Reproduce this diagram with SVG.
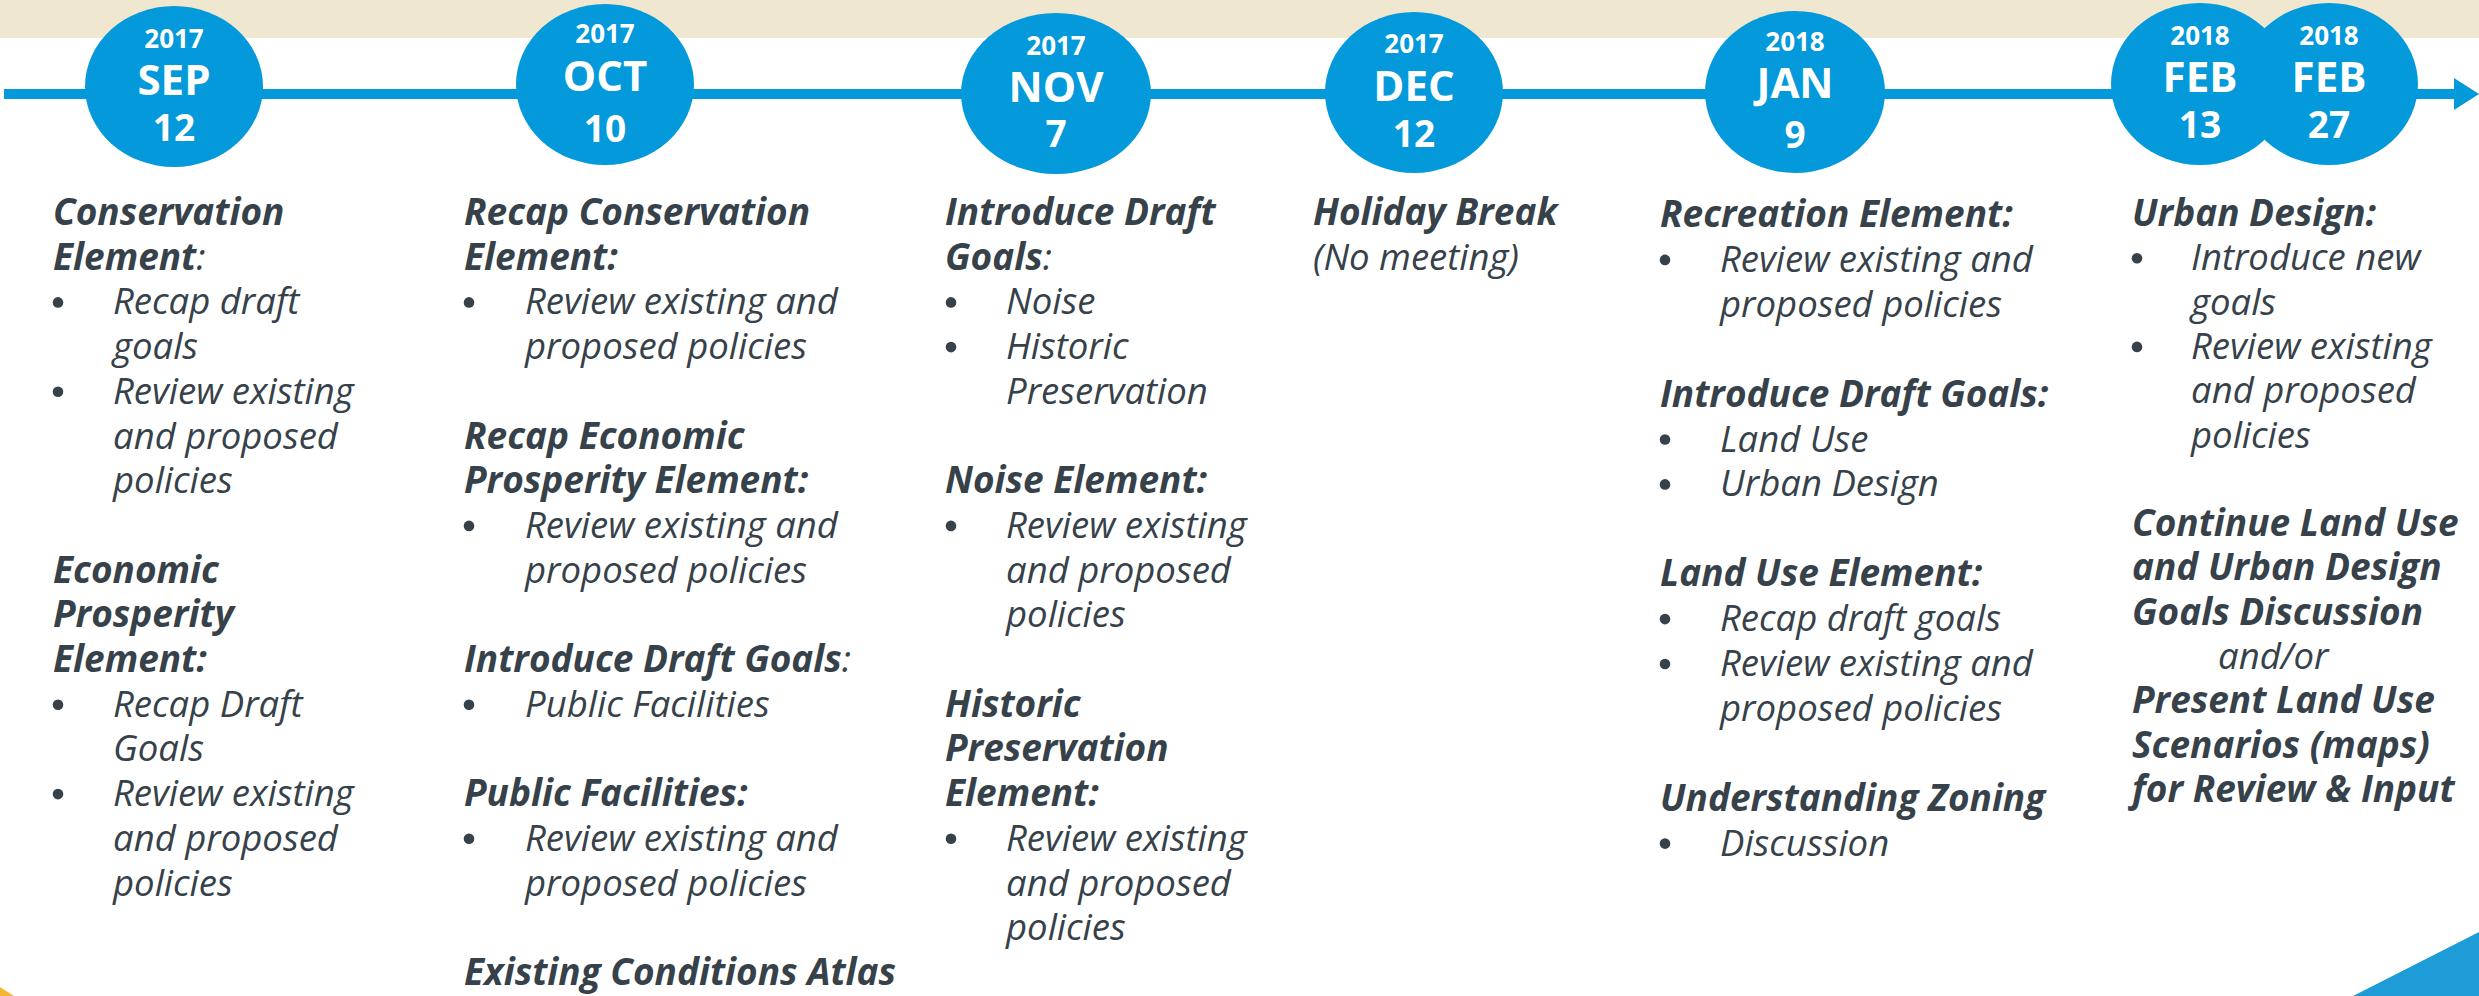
<svg xmlns="http://www.w3.org/2000/svg" width="2479" height="996" viewBox="0 0 2479 996">
<style>
.h{font-family:"Open Sans",sans-serif;font-weight:700;font-style:italic;font-size:37px;fill:#36414a}
.b{font-family:"Open Sans",sans-serif;font-weight:400;font-style:italic;font-size:36.5px;fill:#36414a}
.n{font-weight:400}
.dot{fill:#36414a}
.ell{fill:#0399da}
.yr,.mo,.dy{font-family:"Open Sans",sans-serif;font-weight:700;fill:#ffffff;text-anchor:middle}
.yr{font-size:26px}
.mo{font-size:42px}
.dy{font-size:37px}
</style>
<defs>
<marker id="arr" markerUnits="userSpaceOnUse" markerWidth="30" markerHeight="34" refX="0" refY="16" orient="auto">
<polygon points="0,0 25,16 0,32" fill="#0399da"/>
</marker>
</defs>
<rect x="0" y="0" width="2479" height="38" fill="#f0e7d1"/>
<polygon points="0,987 14,996 0,996" fill="#f5b731"/>
<polygon points="2353,996 2479,932 2479,996" fill="#1e9cd7"/>
<g id="connectors">
<line x1="4" y1="94" x2="2454" y2="94" stroke="#0399da" stroke-width="10" marker-end="url(#arr)"/>
</g>
<g id="date-sep"><ellipse class="ell" cx="174" cy="86.5" rx="89" ry="80.5"/><text class="yr" x="174" y="48">2017</text><text class="mo" x="174" y="95">SEP</text><text class="dy" x="174" y="141">12</text></g>
<g id="date-oct"><ellipse class="ell" cx="605" cy="84.5" rx="89" ry="80.5"/><text class="yr" x="605" y="43">2017</text><text class="mo" x="605" y="91">OCT</text><text class="dy" x="605" y="142">10</text></g>
<g id="date-nov"><ellipse class="ell" cx="1056" cy="93.5" rx="95" ry="80.5"/><text class="yr" x="1056" y="55">2017</text><text class="mo" x="1056" y="102">NOV</text><text class="dy" x="1056" y="147">7</text></g>
<g id="date-dec"><ellipse class="ell" cx="1414" cy="92.5" rx="89" ry="80.5"/><text class="yr" x="1414" y="53">2017</text><text class="mo" x="1414" y="101">DEC</text><text class="dy" x="1414" y="147">12</text></g>
<g id="date-jan"><ellipse class="ell" cx="1795" cy="92" rx="90" ry="81"/><text class="yr" x="1795" y="51">2018</text><text class="mo" x="1795" y="98">JAN</text><text class="dy" x="1795" y="148">9</text></g>
<g id="date-feb13"><ellipse class="ell" cx="2200" cy="84" rx="89" ry="81"/><text class="yr" x="2200" y="45">2018</text><text class="mo" x="2200" y="92">FEB</text><text class="dy" x="2200" y="138">13</text></g>
<g id="date-feb27"><ellipse class="ell" cx="2329" cy="84" rx="89" ry="81"/><text class="yr" x="2329" y="45">2018</text><text class="mo" x="2329" y="92">FEB</text><text class="dy" x="2329" y="138">27</text></g>

<g id="col-sep">
<text class="h" x="53" y="225">Conservation</text>
<text class="h" x="53" y="269.7">Element<tspan class="n">:</tspan></text>
<circle class="dot" cx="58" cy="302.4" r="5.3"/><text class="b" x="113" y="314.4">Recap draft</text>
<text class="b" x="113" y="359.1">goals</text>
<circle class="dot" cx="58" cy="391.8" r="5.3"/><text class="b" x="113" y="403.8">Review existing</text>
<text class="b" x="113" y="448.5">and proposed</text>
<text class="b" x="113" y="493.2">policies</text>
<text class="h" x="53" y="582.6">Economic</text>
<text class="h" x="53" y="627.3">Prosperity</text>
<text class="h" x="53" y="672">Element:</text>
<circle class="dot" cx="58" cy="704.7" r="5.3"/><text class="b" x="113" y="716.7">Recap Draft</text>
<text class="b" x="113" y="761.4">Goals</text>
<circle class="dot" cx="58" cy="794.1" r="5.3"/><text class="b" x="113" y="806.1">Review existing</text>
<text class="b" x="113" y="850.8">and proposed</text>
<text class="b" x="113" y="895.5">policies</text>
</g>

<g id="col-oct">
<text class="h" x="464" y="225">Recap Conservation</text>
<text class="h" x="464" y="269.7">Element:</text>
<circle class="dot" cx="469" cy="302.4" r="5.3"/><text class="b" x="525" y="314.4">Review existing and</text>
<text class="b" x="525" y="359.1">proposed policies</text>
<text class="h" x="464" y="448.5">Recap Economic</text>
<text class="h" x="464" y="493.2">Prosperity Element:</text>
<circle class="dot" cx="469" cy="525.9" r="5.3"/><text class="b" x="525" y="537.9">Review existing and</text>
<text class="b" x="525" y="582.6">proposed policies</text>
<text class="h" x="464" y="672">Introduce Draft Goals<tspan class="n">:</tspan></text>
<circle class="dot" cx="469" cy="704.7" r="5.3"/><text class="b" x="525" y="716.7">Public Facilities</text>
<text class="h" x="464" y="806.1">Public Facilities:</text>
<circle class="dot" cx="469" cy="838.8" r="5.3"/><text class="b" x="525" y="850.8">Review existing and</text>
<text class="b" x="525" y="895.5">proposed policies</text>
<text class="h" x="464" y="984.9">Existing Conditions Atlas</text>
</g>

<g id="col-nov">
<text class="h" x="945" y="225">Introduce Draft</text>
<text class="h" x="945" y="269.7">Goals<tspan class="n">:</tspan></text>
<circle class="dot" cx="951" cy="302.4" r="5.3"/><text class="b" x="1006" y="314.4">Noise</text>
<circle class="dot" cx="951" cy="347.1" r="5.3"/><text class="b" x="1006" y="359.1">Historic</text>
<text class="b" x="1006" y="403.8">Preservation</text>
<text class="h" x="945" y="493.2">Noise Element:</text>
<circle class="dot" cx="951" cy="525.9" r="5.3"/><text class="b" x="1006" y="537.9">Review existing</text>
<text class="b" x="1006" y="582.6">and proposed</text>
<text class="b" x="1006" y="627.3">policies</text>
<text class="h" x="945" y="716.7">Historic</text>
<text class="h" x="945" y="761.4">Preservation</text>
<text class="h" x="945" y="806.1">Element:</text>
<circle class="dot" cx="951" cy="838.8" r="5.3"/><text class="b" x="1006" y="850.8">Review existing</text>
<text class="b" x="1006" y="895.5">and proposed</text>
<text class="b" x="1006" y="940.2">policies</text>
</g>

<g id="col-dec">
<text class="h" x="1313" y="225">Holiday Break</text>
<text class="b" x="1313" y="269.7">(No meeting)</text>
</g>

<g id="col-jan">
<text class="h" x="1660" y="227">Recreation Element:</text>
<circle class="dot" cx="1665" cy="259.9" r="5.3"/><text class="b" x="1720" y="271.9">Review existing and</text>
<text class="b" x="1720" y="316.8">proposed policies</text>
<text class="h" x="1660" y="406.6">Introduce Draft Goals:</text>
<circle class="dot" cx="1665" cy="439.5" r="5.3"/><text class="b" x="1720" y="451.5">Land Use</text>
<circle class="dot" cx="1665" cy="484.4" r="5.3"/><text class="b" x="1720" y="496.4">Urban Design</text>
<text class="h" x="1660" y="586.2">Land Use Element:</text>
<circle class="dot" cx="1665" cy="619.1" r="5.3"/><text class="b" x="1720" y="631.1">Recap draft goals</text>
<circle class="dot" cx="1665" cy="664" r="5.3"/><text class="b" x="1720" y="676">Review existing and</text>
<text class="b" x="1720" y="720.9">proposed policies</text>
<text class="h" x="1660" y="810.7">Understanding Zoning</text>
<circle class="dot" cx="1665" cy="843.6" r="5.3"/><text class="b" x="1720" y="855.6">Discussion</text>
</g>

<g id="col-feb">
<text class="h" x="2132" y="226">Urban Design:</text>
<circle class="dot" cx="2137" cy="258.3" r="5.3"/><text class="b" x="2191" y="270.3">Introduce new</text>
<text class="b" x="2191" y="314.6">goals</text>
<circle class="dot" cx="2137" cy="346.9" r="5.3"/><text class="b" x="2191" y="358.9">Review existing</text>
<text class="b" x="2191" y="403.2">and proposed</text>
<text class="b" x="2191" y="447.5">policies</text>
<text class="h" x="2132" y="536.1">Continue Land Use</text>
<text class="h" x="2132" y="580.4">and Urban Design</text>
<text class="h" x="2132" y="624.7">Goals Discussion</text>
<text class="b" x="2218" y="669">and/or</text>
<text class="h" x="2132" y="713.3">Present Land Use</text>
<text class="h" x="2132" y="757.6">Scenarios (maps)</text>
<text class="h" x="2132" y="801.9">for Review &amp; Input</text>
</g>
</svg>
